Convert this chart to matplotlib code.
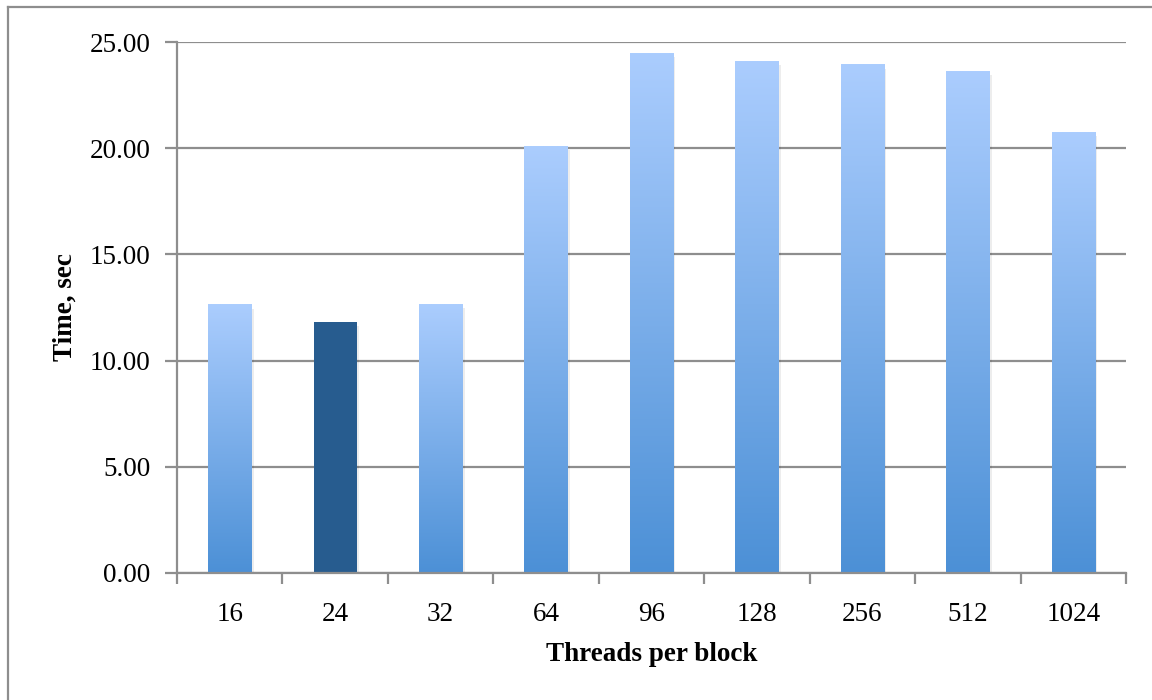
import matplotlib
matplotlib.use("Agg")
import matplotlib.pyplot as plt
import numpy as np
from matplotlib.colors import LinearSegmentedColormap
from matplotlib.lines import Line2D

categories = ["16", "24", "32", "64", "96", "128", "256", "512", "1024"]
times = [12.62, 11.82, 12.66, 20.10, 24.48, 24.10, 23.92, 23.63, 20.76]
highlight = "24"
yticks = [0, 5, 10, 15, 20, 25]

plt.rcParams['font.family'] = ['Liberation Serif']

fig = plt.figure(figsize=(11.52, 7.0), dpi=100)
ax = fig.add_axes([177/1152, 1-573/700, (1126-177)/1152, (573-42)/700])

x = np.arange(len(categories))
width = 0.41
bars = ax.bar(x, times, width=width, color='none', edgecolor='none', zorder=3)

cmap = LinearSegmentedColormap.from_list("g", ["#4C90D6", "#ABCDFE"])
grad = np.linspace(0, 1, 256).reshape(-1, 1)
for cat, b in zip(categories, bars):
    x0, y0 = b.get_x(), b.get_y()
    w, h = b.get_width(), b.get_height()
    # soft shadow
    ax.add_patch(plt.Rectangle((x0 + 0.01, y0), w + 0.012, h - 0.2, facecolor='#000000',
                               alpha=0.07, edgecolor='none', zorder=2.5))
    if cat == highlight:
        ax.add_patch(plt.Rectangle((x0, y0), w, h, facecolor='#275C8F', edgecolor='none', zorder=3))
    else:
        ax.imshow(grad, cmap=cmap, origin='lower', aspect='auto',
                  extent=(x0, x0 + w, y0, y0 + h), zorder=3, interpolation='bilinear')

ax.set_xlim(-0.5, len(categories) - 0.5)
ax.set_ylim(0, 25)
ax.set_yticks(yticks)
ax.set_yticklabels([f"{v:.2f}" for v in yticks])
ax.set_xticks(x)
ax.set_xticklabels(categories)
ax.set_xticks(np.arange(len(categories) + 1) - 0.5, minor=True)

gray = '#8E8E8E'
ax.yaxis.grid(True, color=gray, linewidth=1.6, zorder=1)
ax.set_axisbelow(True)
for s in ['top', 'right']:
    ax.spines[s].set_visible(False)
for s in ['left', 'bottom']:
    ax.spines[s].set_color(gray)
    ax.spines[s].set_linewidth(1.6)
    ax.spines[s].set_zorder(4)

fs = 19.5
ax.tick_params(axis='y', which='major', length=9, width=1.6, color=gray, labelsize=fs, pad=10)
ax.tick_params(axis='x', which='major', length=0, labelsize=fs, pad=21)
ax.tick_params(axis='x', which='minor', length=8, width=1.6, color=gray)

ax.set_ylabel("Time, sec", fontsize=fs, fontweight='bold', labelpad=9)
ax.set_xlabel("Threads per block", fontsize=fs, fontweight='bold', labelpad=11)

# outer chart border
fig.add_artist(Line2D([8/1152, 8/1152], [0, 1-7/700], color=gray, linewidth=1.6, transform=fig.transFigure))
fig.add_artist(Line2D([8/1152, 1], [1-7/700, 1-7/700], color=gray, linewidth=1.6, transform=fig.transFigure))

fig.savefig("out.png", dpi=100)
